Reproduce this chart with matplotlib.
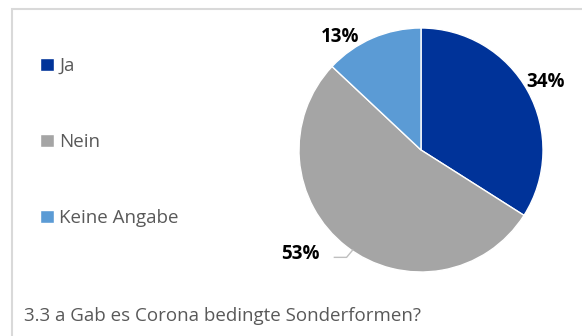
import matplotlib.pyplot as plt
from matplotlib.patches import Rectangle

# Umfrage 3.3 a
categories = ['Ja', 'Nein', 'Keine Angabe']
shares = [34, 53, 13]
colors = ['#003399', '#a5a5a5', '#5b9bd5']
title = '3.3 a Gab es Corona bedingte Sonderformen?'

W, H = 582, 336
plt.rcParams['font.family'] = ['Open Sans', 'DejaVu Sans']

fig = plt.figure(figsize=(W / 100, H / 100), dpi=100)
fig.patch.set_facecolor('white')

# grauer Rahmen (oben/links sichtbar)
fig.add_artist(Rectangle((12 / W, -0.05), 1.2, 1 - 9 / H + 0.05, transform=fig.transFigure,
                         fill=False, edgecolor='#d9d9d9', linewidth=1.5))

# Kreis: Mitte (421,150), Radius 122 px
cx, cy, r = 421, 150, 122
ax = fig.add_axes([(cx - r) / W, (H - cy - r) / H, 2 * r / W, 2 * r / H])
wedges, _ = ax.pie(shares, colors=colors, startangle=90, counterclock=False,
                   wedgeprops={'edgecolor': 'white', 'linewidth': 1})
ax.set_xlim(-1, 1)
ax.set_ylim(-1, 1)
ax.set_aspect('equal')

# Beschriftungen
label_pos = [(1.02, 0.56), (-0.99, -0.85), (-0.66, 0.93)]
for val, (x, y) in zip(shares, label_pos):
    ax.text(x, y, f'{val}%', ha='center', va='center', fontsize=13.5,
            fontweight='bold', color='black')
# Fuehrungslinie fuer "Nein"
ax.plot([-0.71, -0.61, -0.56], [-0.88, -0.88, -0.82], color='#bfbfbf', lw=1, clip_on=False)

# Legende
leg = fig.legend(wedges, categories, loc='upper left',
                 bbox_to_anchor=(40 / W, 1 - 57 / H), frameon=False,
                 fontsize=13.5, labelcolor='#595959', handlelength=0.72, handleheight=0.72,
                 handletextpad=0.3, labelspacing=3.1, borderpad=0, borderaxespad=0)

fig.text(24 / W, 15 / H, title, fontsize=13.5, color='#595959', va='baseline', ha='left')

fig.savefig('out.png', dpi=100)
